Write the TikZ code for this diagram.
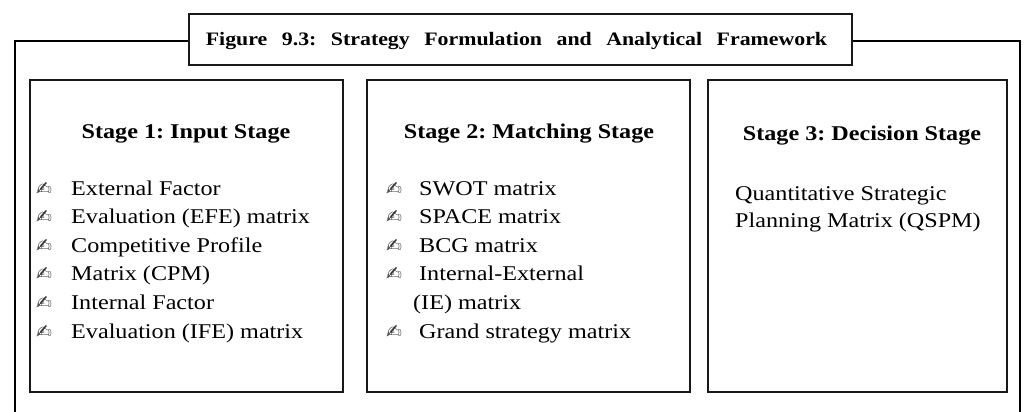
\documentclass[tikz,border=0pt]{standalone}
\usepackage{fontspec}
\setmainfont[FakeStretch=1.15]{Liberation Serif}
\newfontfamily\dingfont{DejaVu Sans}
\frenchspacing
\newcommand\widespaces{\spaceskip=14.5pt\relax\xspaceskip=14.5pt\relax}
\begin{document}
\begin{tikzpicture}[x=1pt,y=-1pt,
  frame/.style={line width=1.8pt,draw=black},
  stagebox/.style={line width=2.2pt,draw=black!90,rectangle,inner sep=0pt},
  heading/.style={font=\fontsize{21}{22}\selectfont\bfseries,anchor=base,inner sep=0pt},
  item/.style={font=\fontsize{21}{22}\selectfont,anchor=base west,inner sep=0pt},
  bul/.style={font=\dingfont\fontsize{19}{19}\selectfont,anchor=base west,inner sep=0pt,text=black!80}]
\useasboundingbox (0,0) rectangle (1031,412);
\fill[white] (0,0) rectangle (1031,412);

% title box and the frame hanging from it
\node[stagebox,minimum width=663pt,minimum height=51pt] (title) at (520.5,39.5) {};
\node[font=\fontsize{19}{20}\selectfont\bfseries,anchor=base,inner sep=0pt] (titletext) at (516.5,46) {\widespaces Figure 9.3: Strategy Formulation and Analytical Framework};
\coordinate (fl) at (15,412);
\coordinate (fr) at (1020,412);
\draw[frame] (title.west |- 0,41) -| (fl);
\draw[frame] (title.east |- 0,41) -| (fr);

% the three stage boxes
\node[stagebox,minimum width=313pt,minimum height=312pt] (s1) at (186.5,236) {};
\node[stagebox,minimum width=323pt,minimum height=312pt] (s2) at (528.5,236) {};
\node[stagebox,minimum width=299pt,minimum height=312pt] (s3) at (857.5,236) {};

% stage 1
\node[heading] (h1) at (186,138.5) {Stage 1: Input Stage};
\foreach \t [count=\i] in {External Factor,Evaluation (EFE) matrix,Competitive Profile,Matrix (CPM),Internal Factor,Evaluation (IFE) matrix}{
  \node[bul] (p1-\i) at (36,195+28.6*\i-28.6) {✍};
  \node[item] (t1-\i) at (71,195+28.6*\i-28.6) {\t};
}

% stage 2
\node[heading] (h2) at (529,138.5) {Stage 2: Matching Stage};
\foreach \t [count=\i] in {SWOT matrix,SPACE matrix,BCG matrix,Internal-External}{
  \node[bul] (p2-\i) at (386,195+28.6*\i-28.6) {✍};
  \node[item] (t2-\i) at (419,195+28.6*\i-28.6) {\t};
}
\node[item] (t2-5) at (413,309.4) {(IE) matrix};
\node[bul] (p2-6) at (386,338) {✍};
\node[item] (t2-6) at (419,338) {Grand strategy matrix};

% stage 3
\node[heading] (h3) at (862,140) {Stage 3: Decision Stage};
\node[item] (t3-1) at (735,200) {Quantitative Strategic};
\node[item] (t3-2) at (735,227) {Planning Matrix (QSPM)};
\end{tikzpicture}
\end{document}
